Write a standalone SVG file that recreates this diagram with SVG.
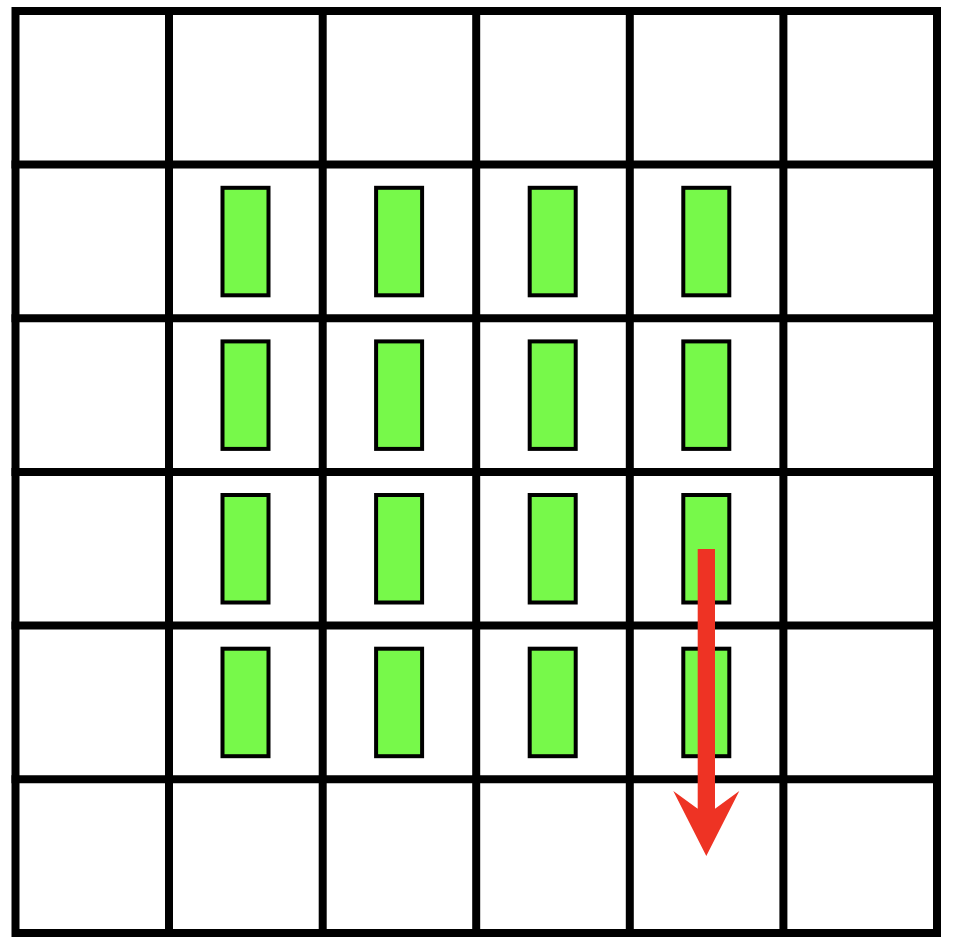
<svg xmlns="http://www.w3.org/2000/svg" width="962" height="952" viewBox="0 0 962 952">
<style>
.grid{stroke:#000;stroke-width:8;fill:none;stroke-linecap:square}
.cell{fill:#77F94A;stroke:#000;stroke-width:4}
.arrow{fill:#EE3324;stroke:none}
</style>
<rect width="962" height="952" fill="#fff"/>
<g id="grid" class="grid">
<rect x="15.5" y="11" width="921.5" height="922"/>
<line x1="169" y1="11" x2="169" y2="933"/>
<line x1="322.7" y1="11" x2="322.7" y2="933"/>
<line x1="476.2" y1="11" x2="476.2" y2="933"/>
<line x1="629.8" y1="11" x2="629.8" y2="933"/>
<line x1="783.4" y1="11" x2="783.4" y2="933"/>
<line x1="15.5" y1="164.6" x2="937" y2="164.6"/>
<line x1="15.5" y1="318.3" x2="937" y2="318.3"/>
<line x1="15.5" y1="471.9" x2="937" y2="471.9"/>
<line x1="15.5" y1="625.5" x2="937" y2="625.5"/>
<line x1="15.5" y1="779.2" x2="937" y2="779.2"/>
</g>
<g id="r1c1"><rect class="cell" x="222.5" y="187.8" width="46" height="107.5"/></g>
<g id="r1c2"><rect class="cell" x="376.1" y="187.8" width="46" height="107.5"/></g>
<g id="r1c3"><rect class="cell" x="529.7" y="187.8" width="46" height="107.5"/></g>
<g id="r1c4"><rect class="cell" x="683.3" y="187.8" width="46" height="107.5"/></g>
<g id="r2c1"><rect class="cell" x="222.5" y="341.4" width="46" height="107.5"/></g>
<g id="r2c2"><rect class="cell" x="376.1" y="341.4" width="46" height="107.5"/></g>
<g id="r2c3"><rect class="cell" x="529.7" y="341.4" width="46" height="107.5"/></g>
<g id="r2c4"><rect class="cell" x="683.3" y="341.4" width="46" height="107.5"/></g>
<g id="r3c1"><rect class="cell" x="222.5" y="495" width="46" height="107.5"/></g>
<g id="r3c2"><rect class="cell" x="376.1" y="495" width="46" height="107.5"/></g>
<g id="r3c3"><rect class="cell" x="529.7" y="495" width="46" height="107.5"/></g>
<g id="r3c4"><rect class="cell" x="683.3" y="495" width="46" height="107.5"/></g>
<g id="r4c1"><rect class="cell" x="222.5" y="648.7" width="46" height="107.5"/></g>
<g id="r4c2"><rect class="cell" x="376.1" y="648.7" width="46" height="107.5"/></g>
<g id="r4c3"><rect class="cell" x="529.7" y="648.7" width="46" height="107.5"/></g>
<g id="r4c4"><rect class="cell" x="683.3" y="648.7" width="46" height="107.5"/></g>
<g id="connectors">
<path class="arrow" d="M697.7,549 H715 V808.7 L739.3,791 L706.3,856 L673.3,791 L697.7,808.7 Z"/>
</g>
</svg>
